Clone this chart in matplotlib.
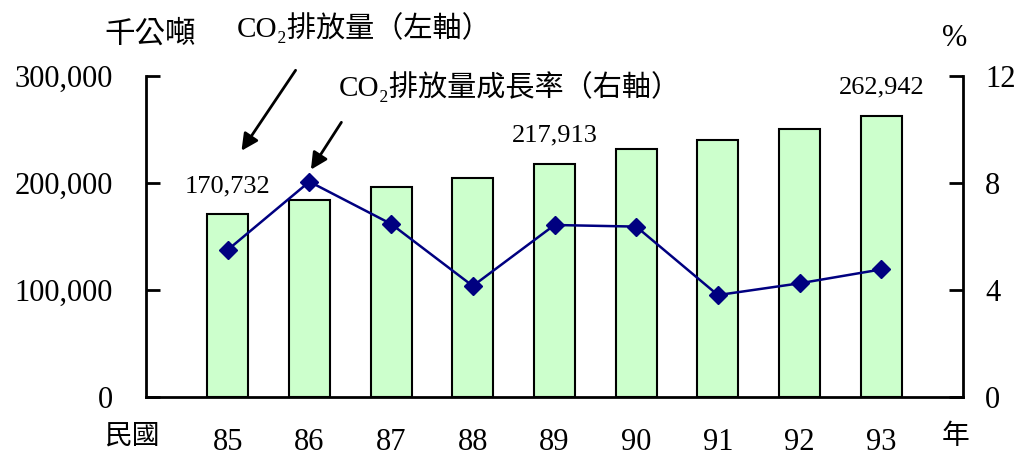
import numpy as np
import matplotlib
matplotlib.use('Agg')
import matplotlib.pyplot as plt

plt.rcParams['font.family'] = ['Liberation Serif', 'Noto Sans CJK TC', 'DejaVu Serif']

# 資料
years = [85, 86, 87, 88, 89, 90, 91, 92, 93]
co2 = [170732, 184400, 196000, 204400, 217913, 231500, 240200, 250200, 262942]
growth = [5.50, 8.05, 6.47, 4.15, 6.43, 6.37, 3.81, 4.25, 4.77]
label_years = [85, 89, 93]

W, H = 1018, 459
fig = plt.figure(figsize=(W / 100, H / 100), dpi=100)
ax = fig.add_axes([146 / W, 1 - 397 / H, (963 - 146) / W, (397 - 76) / H])
ax2 = ax.twinx()

ax.bar(years, co2, width=0.5, color='#CCFFCC', edgecolor='black', linewidth=1.5, zorder=2)
ax.set_xlim(84, 94)
ax.set_ylim(0, 300000)
ax.set_yticks([0, 100000, 200000, 300000])
ax.set_yticklabels(['0', '100,000', '200,000', '300,000'], fontsize=22)
ax.set_xticks(years)
ax.set_xticklabels([str(y) for y in years], fontsize=22)
ax.tick_params(axis='x', length=0, pad=22)
ax.tick_params(axis='y', direction='in', length=10, width=2, pad=24)

ax2.plot(years, growth, color='#000080', linewidth=1.8, marker='D', markersize=9, zorder=3)
ax2.set_ylim(0, 12)
ax2.set_yticks([0, 4, 8, 12])
ax2.set_yticklabels(['0', '4', '8', '12'], fontsize=22)
ax2.tick_params(axis='y', direction='in', length=10, width=2, pad=16)

for a in (ax, ax2):
    a.spines['top'].set_visible(False)
    a.spines['left'].set_linewidth(2)
    a.spines['right'].set_linewidth(2)
    a.spines['bottom'].set_linewidth(2)
ax.spines['right'].set_visible(False)
ax2.spines['left'].set_visible(False)
ax2.spines['bottom'].set_visible(False)

# 數值標籤
for y, v in zip(years, co2):
    if y in label_years:
        ax.annotate('{:,}'.format(v), (y, v), xytext=(0, 28), textcoords='offset pixels',
                    ha='center', va='center', fontsize=19)

# 箭頭
ax.annotate('', xy=(85.15, 228000), xytext=(85.85, 307500),
            arrowprops=dict(arrowstyle='-|>', color='black', lw=2, mutation_scale=25),
            annotation_clip=False)
ax.annotate('', xy=(86.0, 210300), xytext=(86.41, 258900),
            arrowprops=dict(arrowstyle='-|>', color='black', lw=2, mutation_scale=25),
            annotation_clip=False)

# 文字
def ftext(x, y, s, **kw):
    fig.text(x / W, 1 - y / H, s, **kw)

ftext(150, 35, '千公噸', fontsize=22, ha='center', va='center')
ftext(364, 28, 'CO₂排放量（左軸）', fontsize=21, ha='center', va='center')
ftext(510, 87, 'CO₂排放量成長率（右軸）', fontsize=21, ha='center', va='center')
ftext(955, 38, '%', fontsize=22, ha='center', va='center')
ftext(132, 437, '民國', fontsize=20, ha='center', va='center')
ftext(956, 437, '年', fontsize=20, ha='center', va='center')

plt.savefig('out.png', dpi=100)
